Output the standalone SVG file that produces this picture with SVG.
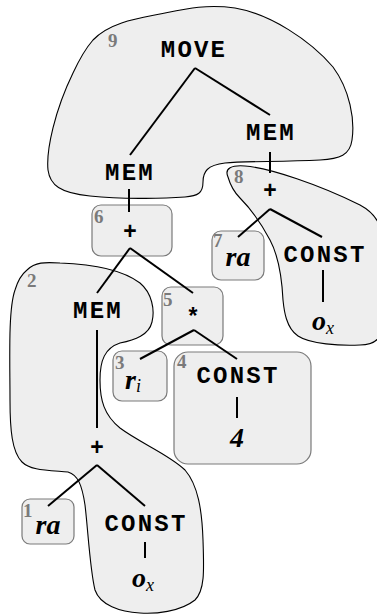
<svg xmlns="http://www.w3.org/2000/svg" width="377" height="615" viewBox="0 0 377 615">
  <style>
    .blob { fill: #eeeeee; stroke: #000; stroke-width: 1.1; }
    .box { fill: #eeeeee; stroke: #7a7a7a; stroke-width: 1.2; }
    .edge { stroke: #000; stroke-width: 2; fill: none; stroke-linecap: butt; }
    .op { font-family: "Liberation Mono", "Courier New", monospace; font-weight: bold; font-size: 24px; letter-spacing: 2.2px; text-anchor: middle; fill: #000; }
    .sym { font-family: "Liberation Sans", Arial, sans-serif; font-weight: bold; font-size: 23px; text-anchor: middle; fill: #000; }
    .leaf { font-family: "Liberation Serif", "Times New Roman", serif; font-weight: bold; font-style: italic; font-size: 28px; fill: #000; }
    .sub { font-family: "Liberation Serif", "Times New Roman", serif; font-weight: normal; font-style: italic; font-size: 18px; }
    .num { font-family: "Liberation Serif", "Times New Roman", serif; font-weight: bold; font-size: 19px; fill: #7a7a7a; }
  </style>

  <!-- tiles covering the tree -->
  <g id="tile9">
    <path class="blob" d="M 93,40 C 110,22 140,18 160,14 C 185,9 205,4 235,8 C 270,14 310,40 333,67 C 350,90 355,120 352,140 C 350,155 340,159 320,160 C 280,162 245,161 225,163 C 207,165 203,172 203,182 C 203,193 198,196 185,197 C 160,199 120,199 90,196 C 60,193 50,185 48,170 C 46,150 55,110 73,73 C 80,58 86,48 93,40 Z"/>
    <text class="num" x="108" y="47">9</text>
  </g>
  <g id="tile8">
    <path class="blob" d="M 228,177 C 224,168 232,165 245,166 C 270,168 320,185 360,205 C 375,213 382,225 382,240 L 382,330 C 380,340 372,345 360,345 C 340,346 310,344 298,336 C 286,328 284,310 283,300 C 282,280 278,255 270,240 C 262,225 250,208 240,198 C 233,191 230,184 228,177 Z"/>
    <text class="num" x="234" y="183">8</text>
  </g>
  <g id="tile2">
    <path class="blob" d="M 27,270 C 35,262 45,262 60,263 C 90,264 120,268 140,283 C 152,293 155,310 152,322 C 149,335 135,340 120,343 C 105,348 100,360 100,380 C 100,400 104,415 120,428 C 140,443 170,455 185,470 C 198,485 202,510 203,540 C 204,570 205,590 195,600 C 180,612 155,614 140,613 C 120,612 100,605 95,590 C 90,570 88,530 85,505 C 82,485 78,475 68,472 C 45,470 30,470 22,462 C 12,452 10,430 10,400 C 10,360 8,310 15,290 C 18,280 22,274 27,270 Z"/>
    <text class="num" x="27" y="287">2</text>
  </g>
  <g id="tile6">
    <rect class="box" x="92" y="205" width="80" height="51" rx="9"/>
    <text class="num" x="94" y="223">6</text>
  </g>
  <g id="tile5">
    <rect class="box" x="162" y="287" width="61" height="58" rx="9"/>
    <text class="num" x="163" y="306">5</text>
  </g>
  <g id="tile3">
    <rect class="box" x="113" y="351" width="54" height="50" rx="9"/>
    <text class="num" x="115" y="369">3</text>
  </g>
  <g id="tile4">
    <rect class="box" x="174" y="352" width="137" height="112" rx="14"/>
    <text class="num" x="177" y="368">4</text>
  </g>
  <g id="tile7">
    <rect class="box" x="212" y="231" width="52" height="49" rx="9"/>
    <text class="num" x="213" y="247">7</text>
  </g>
  <g id="tile1">
    <rect class="box" x="22" y="499" width="52" height="45" rx="8"/>
    <text class="num" x="23" y="517">1</text>
  </g>

  <!-- tree edges -->
  <g id="edges">
    <line class="edge" x1="195" y1="68" x2="130" y2="155"/>
    <line class="edge" x1="195" y1="68" x2="270" y2="115"/>
    <line class="edge" x1="270" y1="152" x2="270" y2="173"/>
    <line class="edge" x1="129" y1="189" x2="129" y2="212"/>
    <line class="edge" x1="130" y1="248" x2="97" y2="293"/>
    <line class="edge" x1="130" y1="248" x2="193" y2="293"/>
    <line class="edge" x1="97" y1="330" x2="97" y2="428"/>
    <line class="edge" x1="97" y1="465" x2="48" y2="506"/>
    <line class="edge" x1="97" y1="465" x2="145" y2="506"/>
    <line class="edge" x1="145" y1="542" x2="145" y2="558"/>
    <line class="edge" x1="194" y1="330" x2="140" y2="359"/>
    <line class="edge" x1="194" y1="330" x2="237" y2="359"/>
    <line class="edge" x1="237" y1="397" x2="237" y2="418"/>
    <line class="edge" x1="270" y1="209" x2="238" y2="237"/>
    <line class="edge" x1="270" y1="209" x2="322" y2="237"/>
    <line class="edge" x1="323" y1="270" x2="323" y2="302"/>
  </g>

  <!-- tree nodes -->
  <g id="move"><text class="op" x="194" y="57">MOVE</text></g>
  <g id="mem-dst"><text class="op" x="271" y="140">MEM</text></g>
  <g id="plus-dst"><text class="sym" x="270" y="198">+</text></g>
  <g id="ra-dst"><text class="leaf" x="238" y="266" text-anchor="middle">ra</text></g>
  <g id="const-dst"><text class="op" x="325" y="262">CONST</text></g>
  <g id="ox-dst"><text class="leaf" x="312" y="330">o<tspan class="sub" dy="4">x</tspan></text></g>

  <g id="mem-src"><text class="op" x="130" y="180">MEM</text></g>
  <g id="plus-addr"><text class="sym" x="130" y="239">+</text></g>
  <g id="mem-base"><text class="op" x="98" y="318">MEM</text></g>
  <g id="plus-base"><text class="sym" x="97" y="455">+</text></g>
  <g id="ra-base"><text class="leaf" x="48" y="534" text-anchor="middle">ra</text></g>
  <g id="const-base"><text class="op" x="146" y="531">CONST</text></g>
  <g id="ox-base"><text class="leaf" x="132" y="587">o<tspan class="sub" dy="4">x</tspan></text></g>

  <g id="times"><text class="sym" x="193" y="324" font-size="25">*</text></g>
  <g id="ri"><text class="leaf" x="125" y="389">r<tspan class="sub" dy="3">i</tspan></text></g>
  <g id="const-scale"><text class="op" x="238" y="383">CONST</text></g>
  <g id="four"><text class="leaf" x="237" y="447" text-anchor="middle">4</text></g>
</svg>
